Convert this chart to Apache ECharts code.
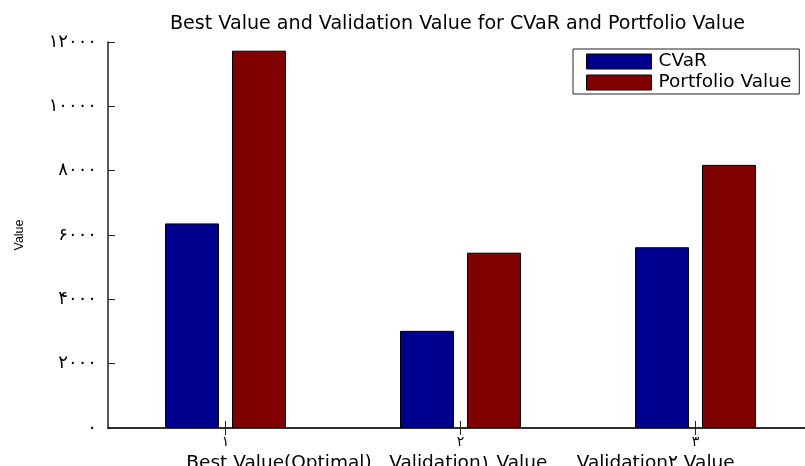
<!DOCTYPE html>
<html>
<head>
<meta charset="utf-8">
<script src="https://cdn.jsdelivr.net/npm/echarts@6/dist/echarts.min.js"></script>
<style>html,body{margin:0;padding:0;background:#fff;}#c{width:805px;height:466px;}</style>
</head>
<body>
<div id="c"></div>
<script>
const categories = ['۱', '۲', '۳'];
const cvar = [6360, 3020, 5620];
const portfolioValue = [11730, 5450, 8180];
const yTickLabels = ['۰', '۲۰۰۰', '۴۰۰۰', '۶۰۰۰', '۸۰۰۰', '۱۰۰۰۰', '۱۲۰۰۰'];
const seriesNames = ['CVaR', 'Portfolio Value'];
const titleText = 'Best Value and Validation Value for CVaR and Portfolio Value';
const xAxisName = 'Best Value(Optimal)   Validation۱ Value     Validation۲ Value';
const yAxisName = 'Value';

const FONT = 'DejaVu Sans';
const chart = echarts.init(document.getElementById('c'), null, {renderer: 'canvas'});
const tickStyle = {show: true, inside: true, length: 7, lineStyle: {color: '#222', width: 1}};
const axisLineStyle = {color: '#222', width: 1.5};
chart.setOption({
  animation: false,
  backgroundColor: '#fff',
  title: {
    text: titleText, left: 170, top: 15, padding: 0,
    textStyle: {fontFamily: FONT, fontSize: 19.1, fontWeight: 'normal', color: '#000'}
  },
  legend: {
    orient: 'vertical', left: 573, top: 49,
    padding: [2, 8, 1, 13], itemGap: 0,
    itemWidth: 65, itemHeight: 15, icon: 'rect',
    borderColor: '#222', borderWidth: 1, backgroundColor: '#fff',
    itemStyle: {borderColor: '#000', borderWidth: 1},
    textStyle: {fontFamily: FONT, fontSize: 18.5, lineHeight: 21, color: '#000', padding: [0, 0, 0, 2]},
    data: seriesNames
  },
  grid: {left: 108, width: 705, top: 42, height: 386, containLabel: false, outerBoundsMode: 'none'},
  xAxis: [{
    type: 'category', data: categories, position: 'bottom',
    axisLine: {lineStyle: axisLineStyle},
    axisTick: Object.assign({alignWithLabel: true}, tickStyle),
    axisLabel: {fontFamily: FONT, fontSize: 14, color: '#000', margin: 7},
    name: xAxisName, nameLocation: 'middle', nameGap: 25,
    nameTextStyle: {fontFamily: FONT, fontSize: 18.5, color: '#000'}
  }, {
    type: 'category', data: categories, position: 'top',
    axisLine: {lineStyle: axisLineStyle},
    axisTick: Object.assign({alignWithLabel: true}, tickStyle),
    axisLabel: {show: false}
  }],
  yAxis: [{
    type: 'value', min: 0, max: 12000, interval: 2000, position: 'left',
    axisLine: {show: true, lineStyle: axisLineStyle},
    axisTick: tickStyle,
    splitLine: {show: false},
    axisLabel: {fontFamily: FONT, fontSize: 18, color: '#000', margin: 11,
      formatter: v => yTickLabels[Math.round(v / 2000)]},
    name: yAxisName, nameLocation: 'middle', nameGap: 82, nameRotate: 90,
    nameTextStyle: {fontFamily: 'Liberation Sans', fontSize: 12.5, color: '#000'}
  }, {
    type: 'value', min: 0, max: 12000, interval: 2000, position: 'right',
    axisLine: {show: true, lineStyle: axisLineStyle},
    axisTick: tickStyle, splitLine: {show: false}, axisLabel: {show: false}
  }],
  series: [{
    name: seriesNames[0], type: 'bar', data: cvar, barWidth: 54, barGap: '24%',
    itemStyle: {color: '#00008F', borderColor: '#000', borderWidth: 1}
  }, {
    name: seriesNames[1], type: 'bar', data: portfolioValue, barWidth: 54, barGap: '24%',
    itemStyle: {color: '#800000', borderColor: '#000', borderWidth: 1}
  }]
});
</script>
</body>
</html>
